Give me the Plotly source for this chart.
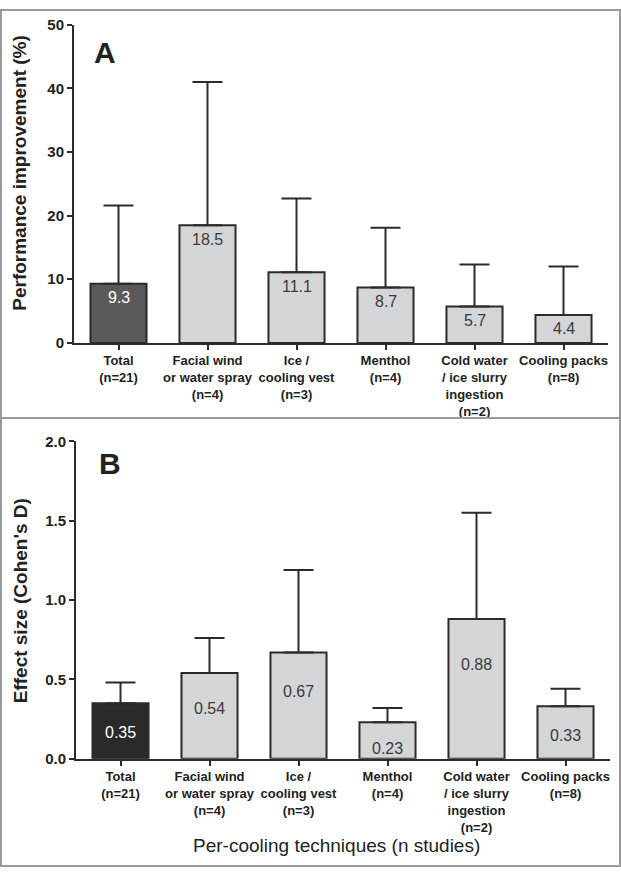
import plotly.graph_objects as go

categories = ["Total<br>(n=21)", "Facial wind<br>or water spray<br>(n=4)", "Ice /<br>cooling vest<br>(n=3)",
              "Menthol<br>(n=4)", "Cold water<br>/ ice slurry<br>ingestion<br>(n=2)", "Cooling packs<br>(n=8)"]
perf_mean = [9.3, 18.5, 11.1, 8.7, 5.7, 4.4]
perf_upper = [21.6, 41.0, 22.7, 18.1, 12.3, 12.0]
perf_labels = ["9.3", "18.5", "11.1", "8.7", "5.7", "4.4"]
eff_mean = [0.35, 0.54, 0.67, 0.23, 0.88, 0.33]
eff_upper = [0.48, 0.76, 1.19, 0.32, 1.55, 0.44]
eff_labels = ["0.35", "0.54", "0.67", "0.23", "0.88", "0.33"]
perf_ticks = [0, 10, 20, 30, 40, 50]
eff_ticks = [0.0, 0.5, 1.0, 1.5, 2.0]

W, H = 621, 875
FONT = "Liberation Sans, Arial, sans-serif"
DARK = "#2b2b2b"
LIGHT = "#d4d5d7"
xs = list(range(len(categories)))

fig = go.Figure()

def add_panel(means, uppers, total_color, xa, ya):
    colors = [total_color] + [LIGHT] * (len(means) - 1)
    fig.add_trace(go.Bar(
        x=xs, y=means, xaxis=xa, yaxis=ya, width=0.63,
        marker=dict(color=colors, line=dict(color=DARK, width=2)),
        error_y=dict(type="data", symmetric=False,
                     array=[u - m for u, m in zip(uppers, means)],
                     arrayminus=[0] * len(means),
                     color=DARK, thickness=2, width=15),
        showlegend=False, hoverinfo="skip"))

add_panel(perf_mean, perf_upper, "#5a5a5a", "x", "y")
add_panel(eff_mean, eff_upper, "#2a2a2a", "x2", "y2")

annotations = []
for i, (m, t) in enumerate(zip(perf_mean, perf_labels)):
    annotations.append(dict(x=i, y=m, xref="x", yref="y", text=t, showarrow=False,
                            yshift=-14, font=dict(family=FONT, size=16,
                                                  color="white" if i == 0 else "#3a3a3a")))
for i, (m, t) in enumerate(zip(eff_mean, eff_labels)):
    annotations.append(dict(x=i, y=m, xref="x2", yref="y2", text=t, showarrow=False,
                            yshift=-(19 + 30 * m), font=dict(family=FONT, size=16,
                                                             color="white" if i == 0 else "#3a3a3a")))

def paper_note(px, py, text, size, angle=0):
    return dict(x=px / W, y=1 - py / H, xref="paper", yref="paper", text=text, showarrow=False,
                xanchor="center", yanchor="middle", textangle=angle,
                font=dict(family=FONT, size=size, color="#222"))

annotations += [
    paper_note(105, 44, "<b>A</b>", 30),
    paper_note(110, 463, "<b>B</b>", 30),
    paper_note(20, 167, "<b>Performance improvement (%)</b>", 19, -90),
    paper_note(20, 604, "<b>Effect size (Cohen's D)</b>", 19, -90),
    paper_note(336, 853, "Per-cooling techniques (n studies)", 19),
]

axis_common = dict(showline=True, linecolor=DARK, linewidth=2, ticks="outside", tickcolor=DARK,
                   tickwidth=2, ticklen=5, showgrid=False, zeroline=False, fixedrange=True)
xtick_font = dict(family=FONT, size=13, color="#222", weight="bold")
ytick_font = dict(family=FONT, size=15, color="#222", weight="bold")

fig.update_layout(
    width=W, height=H, margin=dict(l=0, r=0, t=0, b=0),
    paper_bgcolor="white", plot_bgcolor="white", bargap=0.37,
    xaxis=dict(domain=[74 / W, 608 / W], range=[-0.5, 5.5], anchor="y",
               tickvals=xs, ticktext=categories, tickfont=xtick_font, **axis_common),
    yaxis=dict(domain=[1 - 340.5 / H, 1 - 16 / H], range=[0, 50], anchor="x",
               tickvals=perf_ticks, tickfont=ytick_font, **axis_common),
    xaxis2=dict(domain=[76 / W, 610 / W], range=[-0.5, 5.5], anchor="y2",
                tickvals=xs, ticktext=categories, tickfont=xtick_font, **axis_common),
    yaxis2=dict(domain=[1 - 764.5 / H, 1 - 441 / H], range=[0, 2], anchor="x2",
                tickvals=eff_ticks, tickformat=".1f", tickfont=ytick_font, **axis_common),
    annotations=annotations,
    shapes=[
        dict(type="rect", xref="paper", yref="paper", x0=1 / W, x1=1 - 1 / W, y0=1 / H, y1=1 - 1 / H,
             line=dict(color="#9a9a9a", width=2)),
        dict(type="line", xref="paper", yref="paper", x0=0, x1=1, y0=1 - 417 / H, y1=1 - 417 / H,
             line=dict(color="#9a9a9a", width=2)),
    ],
)

fig.write_html("out.html", config={"displayModeBar": False},
               post_script="document.body.style.margin='0px';document.body.style.overflow='hidden';")
